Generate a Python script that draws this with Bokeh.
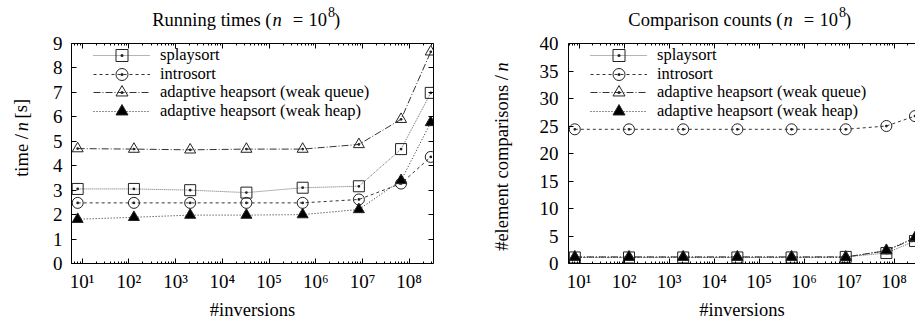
from bokeh.plotting import figure
from bokeh.models import (LogAxis, LinearAxis, Legend, LegendItem, Label,
                          FixedTicker, Range1d)
from bokeh.layouts import row, column
from bokeh.embed import file_html
from bokeh.resources import INLINE

FONT = "Liberation Serif"

# ---------------- data ----------------
inversions = [8, 128, 2048, 32768, 524288, 8388608, 67108864, 290000000]
series_names = ["splaysort", "introsort",
                "adaptive heapsort (weak queue)", "adaptive heapsort (weak heap)"]

time_splaysort = [3.05, 3.05, 3.00, 2.90, 3.10, 3.16, 4.68, 6.98]
time_introsort = [2.48, 2.48, 2.48, 2.48, 2.48, 2.62, 3.27, 4.36]
time_weak_queue = [4.70, 4.68, 4.65, 4.68, 4.68, 4.87, 5.90, 8.66]
time_weak_heap = [1.81, 1.89, 1.98, 1.98, 2.00, 2.21, 3.40, 5.77]

cmp_splaysort = [1.1, 1.1, 1.1, 1.1, 1.1, 1.2, 1.9, 4.1]
cmp_introsort = [24.4, 24.4, 24.4, 24.4, 24.4, 24.4, 25.0, 26.8]
cmp_weak_queue = [1.2, 1.2, 1.2, 1.2, 1.2, 1.2, 2.3, 4.6]
cmp_weak_heap = [1.15, 1.15, 1.15, 1.15, 1.15, 1.1, 2.4, 4.7]

x_tick_values = [10, 100, 1000, 10000, 100000, 1000000, 10000000, 100000000]
x_tick_labels = ["10¹", "10²", "10³", "10⁴", "10⁵", "10⁶", "10⁷", "10⁸"]
time_ticks = [0, 1, 2, 3, 4, 5, 6, 7, 8, 9]
cmp_ticks = [0, 5, 10, 15, 20, 25, 30, 35, 40]

STYLES = [
    dict(marker="square_dot", dash="1 1", color="#6a6a6a", fill=None),
    dict(marker="circle_dot", dash="3 3", color="#333333", fill=None),
    dict(marker="triangle_dot", dash="7 2 1 2", color="#333333", fill=None),
    dict(marker="triangle", dash="1 2", color="#222222", fill="black"),
]

TOTAL_H = 322
TITLE_H = 30
MID_H = TOTAL_H - TITLE_H
FRAME_TOP = 43      # page px
FRAME_BOTTOM = 263  # page px
LEGEND_ROWS = [55.3, 73.7, 92.1, 110.5]   # page y of legend row centres
TXT = "18.5px"
LEG_TXT = "16.5px"


def style_axis(ax, standoff=8, hidden=False):
    ax.axis_line_color = "black"
    ax.axis_line_width = 1
    ax.major_tick_in = 5
    ax.major_tick_out = 0
    ax.minor_tick_in = 2
    ax.minor_tick_out = 0
    ax.major_tick_line_color = "black"
    ax.minor_tick_line_color = "black"
    ax.major_label_text_font = FONT
    ax.major_label_text_color = "black"
    ax.major_label_standoff = 0 if hidden else standoff
    ax.major_label_text_font_size = "1px" if hidden else "19px"


def make_plot(width, left, right, xlo, xhi, yhi, yticks, ys, mirror_right,
              ystandoff):
    p = figure(width=width, height=MID_H, x_axis_type="log",
               x_range=Range1d(xlo, xhi), y_range=Range1d(0, yhi),
               output_backend="svg", toolbar_location=None,
               min_border_left=left, min_border_right=right,
               min_border_top=FRAME_TOP - TITLE_H,
               min_border_bottom=TOTAL_H - FRAME_BOTTOM)
    p.xgrid.visible = False
    p.ygrid.visible = False
    p.outline_line_color = None
    p.background_fill_color = "white"
    p.border_fill_color = "white"

    minor = [k * d for d in [1, 10, 100, 1000, 10000, 100000, 1000000,
                             10000000, 100000000] for k in range(2, 10)]
    xt = FixedTicker(ticks=x_tick_values, minor_ticks=minor)
    yt = FixedTicker(ticks=yticks, minor_ticks=[])

    xa = p.xaxis[0]
    xa.ticker = xt
    xa.major_label_overrides = {v: s for v, s in zip(x_tick_values, x_tick_labels)}
    style_axis(xa, 7)
    xa.axis_label = "#inversions"
    xa.axis_label_text_font = FONT
    xa.axis_label_text_font_size = TXT
    xa.axis_label_text_font_style = "normal"
    xa.axis_label_text_color = "black"
    xa.axis_label_standoff = 5
    ya = p.yaxis[0]
    ya.ticker = yt
    style_axis(ya, ystandoff)

    top_ax = LogAxis(ticker=xt)
    style_axis(top_ax, hidden=True)
    top_ax.major_label_overrides = {v: "" for v in x_tick_values}
    p.add_layout(top_ax, "above")
    if mirror_right:
        r_ax = LinearAxis(ticker=yt)
        style_axis(r_ax, hidden=True)
        r_ax.major_label_overrides = {v: "" for v in yticks}
        p.add_layout(r_ax, "right")

    for name, yv, st, cy in zip(series_names, ys, STYLES, LEGEND_ROWS):
        lr = p.line(inversions, yv, line_color=st["color"], line_width=1,
                    line_dash=st["dash"])
        sr = p.scatter(inversions, yv, marker=st["marker"], size=11,
                       line_color="#222222", line_width=1,
                       fill_color=st["fill"])
        leg = Legend(items=[LegendItem(label=name, renderers=[lr, sr])],
                     location=(22, FRAME_BOTTOM - (cy + 15)), glyph_width=57,
                     glyph_height=30, spacing=0, padding=0, margin=0,
                     label_standoff=10, label_text_font=FONT,
                     label_text_font_size=LEG_TXT, label_text_color="black",
                     border_line_color=None, background_fill_alpha=0)
        p.add_layout(leg)
    return p


def text_panel(x0, y0, w, h):
    """A figure whose frame is the whole canvas, in page pixel coordinates."""
    p = figure(width=w, height=h, x_range=Range1d(x0, x0 + w),
               y_range=Range1d(y0 + h, y0), output_backend="svg",
               toolbar_location=None, min_border=0,
               x_axis_location=None, y_axis_location=None)
    p.grid.visible = False
    p.outline_line_color = None
    p.background_fill_color = "white"
    p.border_fill_color = "white"
    return p


def add_text(p, px, py, text, size=TXT, style="normal", align="left",
             angle=0.0):
    p.add_layout(Label(x=px, y=py, text=text, text_font=FONT,
                       text_font_size=size, text_font_style=style,
                       text_align=align, text_baseline="alphabetic",
                       angle=angle, text_color="black"))


# ---------------- title panels ----------------
TB = 19   # title baseline (page px)
t1 = text_panel(0, 0, 452, TITLE_H)
add_text(t1, 271, TB, "Running times (", align="right")
add_text(t1, 272, TB, "n", style="italic")
add_text(t1, 297.5, TB, "=", align="center")
add_text(t1, 308, TB, "10")
add_text(t1, 327.5, TB - 8, "8", size="14px")
add_text(t1, 333.5, TB, ")")

t2 = text_panel(452, 0, 463, TITLE_H)
add_text(t2, 782, TB, "Comparison counts (", align="right")
add_text(t2, 783, TB, "n", style="italic")
add_text(t2, 808.5, TB, "=", align="center")
add_text(t2, 819, TB, "10")
add_text(t2, 838.5, TB - 8, "8", size="14px")
add_text(t2, 844.5, TB, ")")

# ---------------- y label panels ----------------
Y1W = 40
y1 = text_panel(0, TITLE_H, Y1W, MID_H)
add_text(y1, 21, 150.3, "time /", align="right", angle=1.5708)
add_text(y1, 21, 146.5, "n", style="italic", angle=1.5708)
add_text(y1, 21, 129.5, "[s]", angle=1.5708)

P1W = 420
Y2X = Y1W + P1W
Y2W = 55
y2 = text_panel(Y2X, TITLE_H, Y2W, MID_H)
add_text(y2, 501, 72, "#element comparisons /", align="right", angle=1.5708)
add_text(y2, 501, 67.3, "n", style="italic", angle=1.5708)

# ---------------- plots ----------------
p1 = make_plot(P1W, 71 - Y1W, 27, 10 ** 0.771, 10 ** 8.521, 9, time_ticks,
               [time_splaysort, time_introsort, time_weak_queue, time_weak_heap],
               True, 9)
P2X = Y2X + Y2W
p2 = make_plot(915 - P2X, 568 - P2X, 0, 10 ** 0.763, 10 ** 8.474, 40, cmp_ticks,
               [cmp_splaysort, cmp_introsort, cmp_weak_queue, cmp_weak_heap],
               False, 10)

layout = column(row(t1, t2, spacing=0),
                row(y1, p1, y2, p2, spacing=0), spacing=0)
open("out.html", "w").write(file_html(layout, INLINE))
